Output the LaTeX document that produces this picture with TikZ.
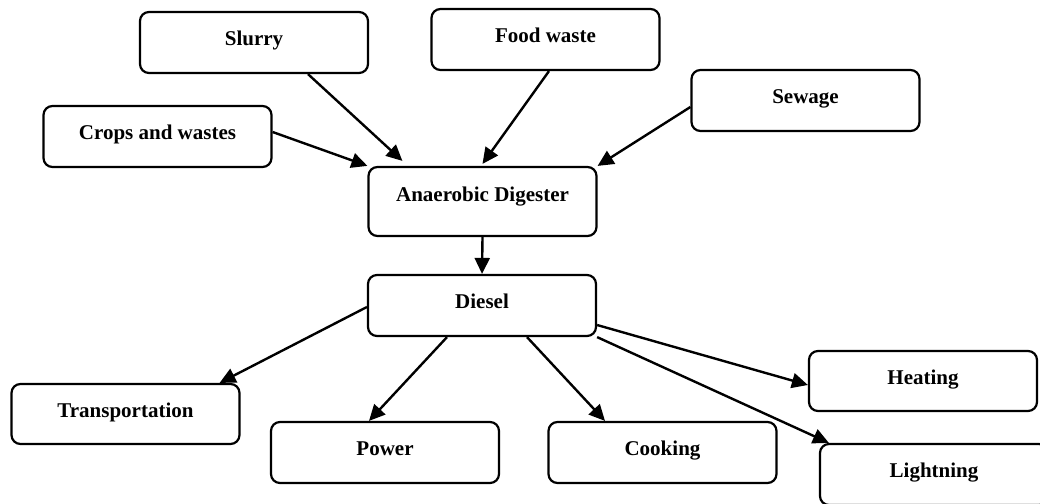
\documentclass[tikz,border=0pt]{standalone}
\usepackage{fontspec}
\setmainfont{Liberation Serif}
\usetikzlibrary{arrows.meta}
\tikzset{
  box/.style={draw=black, line width=2.2pt, rounded corners=9pt, fill=white,
    minimum width=228pt, minimum height=61pt, inner sep=0pt,
    text height=14pt, text depth=8pt,
    font=\fontsize{21}{25}\selectfont\bfseries},
  arr/.style={draw=black, line width=2.4pt, -{Triangle[length=16pt,width=15pt]}}
}
\begin{document}
\begin{tikzpicture}[x=1pt,y=-1pt]
\useasboundingbox (0,0) rectangle (1040,503);
\clip (0,0) rectangle (1040,503);
\node[box] (slurry) at (254,42.5) {Slurry};
\node[box] (food) at (545.5,39.5) {Food waste};
\node[box] (sewage) at (805.5,100.5) {Sewage};
\node[box] (crops) at (157.5,136.5) {Crops and wastes};
\node[box, minimum height=69pt, text height=14pt, text depth=15pt] (ad) at (482.5,201.5) {Anaerobic Digester};
\node[box] (diesel) at (482,305.5) {Diesel};
\node[box, minimum height=60pt] (transp) at (125.5,414) {Transportation};
\node[box] (power) at (385,452.5) {Power};
\node[box] (cooking) at (662.5,452.5) {Cooking};
\node[box, minimum height=60pt] (heating) at (923,381) {Heating};
\node[box] (lightning) at (934,474.5) {Lightning};

\draw[arr] ([xshift=54pt]slurry.south) -- ([xshift=35pt,yshift=5pt]ad.north west);
\draw[arr] ([xshift=3.5pt]food.south) -- ([yshift=2pt]ad.north);
\draw[arr] ([yshift=4.5pt]crops.east) -- (ad.north west);
\draw[arr] ([yshift=-6.5pt]sewage.west) -- (ad.north east);
\draw[arr] (ad.south) -- (diesel.north);
\draw[arr] ([yshift=-1.5pt]diesel.west) -- ([xshift=-21pt]transp.north east);
\draw[arr] ([xshift=-35pt]diesel.south) -- ([xshift=-16pt]power.north);
\draw[arr] ([xshift=45pt]diesel.south) -- ([xshift=-57.5pt]cooking.north);
\draw[arr] ([yshift=-19.5pt]diesel.east) -- ([yshift=-4pt]heating.west);
\draw[arr] (diesel.south east) -- ([xshift=10pt]lightning.north west);
\end{tikzpicture}
\end{document}
